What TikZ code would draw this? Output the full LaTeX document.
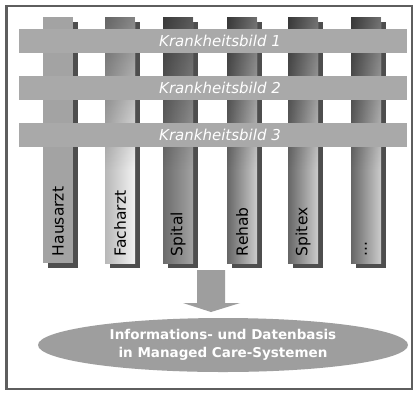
\documentclass[tikz,border=0pt]{standalone}
\usepackage{fontspec}
\setmainfont{DejaVu Sans}
\usetikzlibrary{fadings,backgrounds,shapes.geometric}

\definecolor{framegray}{HTML}{5E5E5E}
\definecolor{bargray}{HTML}{A9A9A9}
\definecolor{shadowgray}{HTML}{4E4E4E}
\definecolor{flatgray}{HTML}{A3A3A3}
\definecolor{basegray}{HTML}{9E9E9E}

\begin{document}
\begin{tikzpicture}[x=1pt,y=-1pt,
  pillar/.style={rectangle, draw=none, inner sep=0pt,
    minimum width=30pt, minimum height=246pt},
  cylinder shade/.style={left color=black!60, right color=black!20},
  bar/.style={rectangle, fill=bargray, draw=none, inner sep=0pt,
    minimum width=388pt, minimum height=24pt},
  bartext/.style={text=white, inner sep=0pt,
    font=\fontsize{15}{18}\selectfont\itshape},
  pillarlabel/.style={rotate=90, anchor=west, inner sep=0pt, text=black,
    font=\fontsize{15.5}{18}\selectfont},
  shade top/.style={fill=black, opacity=.45, path fading=south},
  blockarrow/.style={fill=basegray, draw=none},
  base/.style={ellipse, fill=basegray, draw=none, inner sep=0pt,
    minimum width=370pt, minimum height=54pt, text=white, align=center,
    font=\fontsize{13.5}{18}\selectfont\bfseries}
]
\useasboundingbox (0,0) rectangle (415,392);

% the six pillars (sectors of care)
\node[pillar, fill=flatgray] (c1) at (58,140) {};
\node[pillar, left color=black!28, right color=black!5] (c2) at (120,140) {};
\node[pillar, left color=black!58, right color=black!36] (c3) at (178,140) {};
\node[pillar, cylinder shade] (c4) at (242,140) {};
\node[pillar, cylinder shade] (c5) at (303,140) {};
\node[pillar, cylinder shade] (c6) at (366,140) {};

% white page and drop shadows behind the pillars
\begin{scope}[on background layer]
  \fill[white] (0,0) rectangle (415,392);
  \foreach \c in {c1,c2,c3,c4,c5,c6}{
    \fill[shadowgray] ([shift={(5pt,-5pt)}]\c.north west)
      rectangle ([shift={(5pt,-5pt)}]\c.south east);
  }
\end{scope}

% darker upper parts of the shaded pillars
\foreach \c in {c2,c3,c4,c5,c6}{
  \fill[shade top] (\c.north west) rectangle ([yshift=-30pt]\c.east);
}

% pillar labels
\node[pillarlabel] at ([yshift=7pt]c1.south) {Hausarzt};
\node[pillarlabel] at ([yshift=7pt]c2.south) {Facharzt};
\node[pillarlabel] at ([yshift=7pt]c3.south) {Spital};
\node[pillarlabel] at ([yshift=7pt]c4.south) {Rehab};
\node[pillarlabel] at ([yshift=7pt]c5.south) {Spitex};
\node[pillarlabel] at ([yshift=7pt]c6.south) {...};

% the three cross bars (clinical pictures)
\node[bar] (b1) at (213,41) {};
\node[bar] (b2) at (213,87.5) {};
\node[bar] (b3) at (213,135) {};
\node[bartext] at ([xshift=7pt]b1.center) {Krankheitsbild 1};
\node[bartext] at ([xshift=7pt]b2.center) {Krankheitsbild 2};
\node[bartext] at ([xshift=7pt]b3.center) {Krankheitsbild 3};

% common information base
\node[base] (db) at (223,345) {Informations- und Datenbasis\\in Managed Care-Systemen};

% block arrow down to the information base
\coordinate (atop) at (211,270);
\fill[blockarrow] ([xshift=-14pt]atop) -- ([xshift=14pt]atop)
  -- ([shift={(14pt,-33pt)}]atop) -- ([shift={(29pt,-33pt)}]atop)
  -- ([yshift=-42pt]atop)
  -- ([shift={(-28pt,-33pt)}]atop) -- ([shift={(-14pt,-33pt)}]atop) -- cycle;

% outer frame
\draw[framegray, line width=2.5pt] (6.5,6) rectangle (412,389);
\end{tikzpicture}
\end{document}
